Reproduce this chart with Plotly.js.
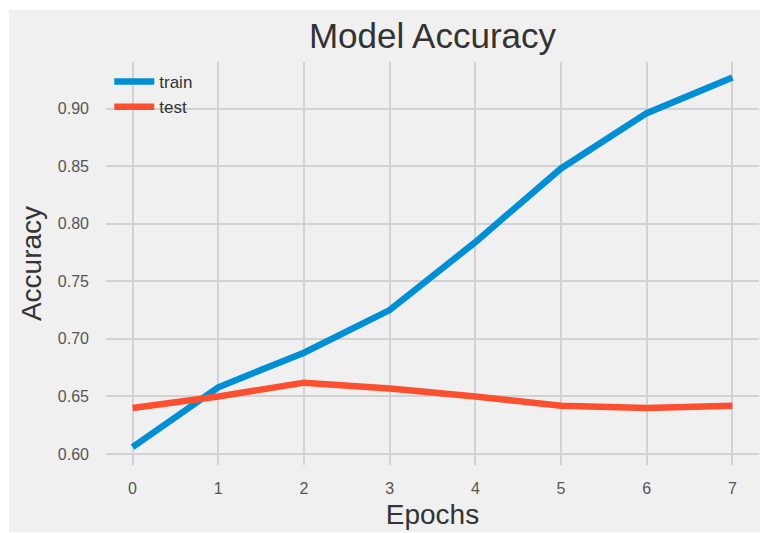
<!DOCTYPE html>
<html>
<head>
<meta charset="utf-8">
<script src="https://cdn.plot.ly/plotly-3.0.1.min.js"></script>
<style>
  html, body { margin: 0; padding: 0; background: #ffffff; }
  #chart { position: absolute; left: 9px; top: 10px; width: 751px; height: 522px; }
</style>
</head>
<body>
<div id="chart"></div>
<script>
const epochs = [0, 1, 2, 3, 4, 5, 6, 7];
const trainAcc = [0.606, 0.658, 0.688, 0.725, 0.784, 0.848, 0.896, 0.927];
const testAcc = [0.640, 0.650, 0.662, 0.657, 0.650, 0.642, 0.640, 0.642];
const xTicks = [0, 1, 2, 3, 4, 5, 6, 7];
const yTicks = [0.60, 0.65, 0.70, 0.75, 0.80, 0.85, 0.90];

const FONT = "Liberation Sans, Arial, sans-serif";

const traces = [
  { x: epochs, y: trainAcc, name: 'train', mode: 'lines',
    line: { color: '#008fd5', width: 6.5 } },
  { x: epochs, y: testAcc, name: 'test', mode: 'lines',
    line: { color: '#fc4f30', width: 6.5 } }
];

const layout = {
  width: 751, height: 522,
  paper_bgcolor: '#f0f0f0', plot_bgcolor: '#f0f0f0',
  margin: { l: 97, r: 1, t: 52, b: 67 },
  font: { family: FONT, color: '#444444' },
  title: { text: 'Model Accuracy', font: { family: FONT, size: 35, color: '#333333' },
           x: 0.5, xref: 'paper', xanchor: 'center', y: 0.95, yref: 'container', yanchor: 'middle' },
  xaxis: {
    range: [-0.31, 7.31], tickvals: xTicks, ticktext: xTicks.map(String),
    showgrid: true, gridcolor: '#d2d2d2', gridwidth: 2, zeroline: false, showline: false,
    ticks: '', tickfont: { size: 16, color: '#555555' }, ticklabelstandoff: 12,
    title: { text: 'Epochs', font: { size: 28, color: '#333333' }, standoff: 8 }
  },
  yaxis: {
    range: [0.5905, 0.9404], tickvals: yTicks, ticktext: yTicks.map(v => v.toFixed(2)),
    showgrid: true, gridcolor: '#d2d2d2', gridwidth: 2, zeroline: false, showline: false,
    ticks: '', tickfont: { size: 16, color: '#555555' }, ticklabelstandoff: 16,
    title: { text: 'Accuracy', font: { size: 28, color: '#333333' }, standoff: 8 }
  },
  legend: {
    x: 0.005, y: 0.995, xanchor: 'left', yanchor: 'top',
    bgcolor: 'rgba(0,0,0,0)', font: { size: 17, color: '#333333' },
    tracegroupgap: 0, itemwidth: 40
  },
  showlegend: true
};

Plotly.newPlot('chart', traces, layout, { displayModeBar: false, staticPlot: true });
</script>
</body>
</html>
